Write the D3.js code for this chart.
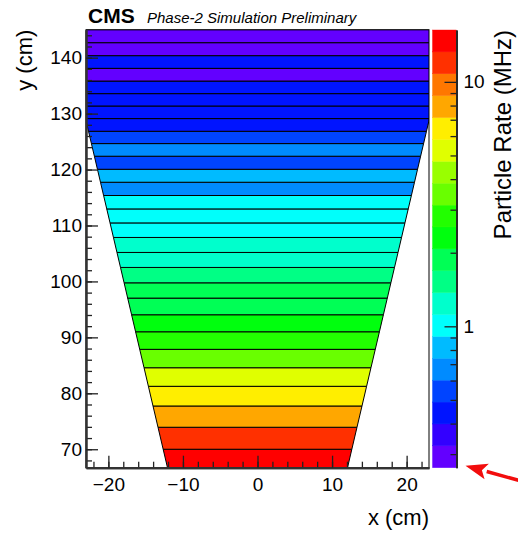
<!DOCTYPE html>
<html>
<head>
<meta charset="utf-8">
<script src="https://cdn.jsdelivr.net/npm/d3@7"></script>
<style>
  body { margin: 0; background: #fff; }
  svg { display: block; font-family: "Liberation Sans", Arial, sans-serif; }
</style>
</head>
<body>
<svg width="518" height="533"></svg>
<script>
// strip boundaries in y (cm), bottom to top
const stripEdges = [66.7, 70.0, 73.93, 77.73, 81.25, 84.57, 87.86, 91.0, 94.04, 97.02,
    99.75, 102.5, 105.18, 107.86, 110.46, 112.96, 115.36, 117.73, 120.05, 122.38,
    124.64, 126.84, 129.11, 131.36, 133.57, 135.82, 138.09, 140.36, 142.68, 145];

// particle rate of each strip (MHz), bottom to top
const stripRates = [14.7, 12.0, 7.9, 6.4, 5.2, 3.5, 2.8, 2.3, 1.87, 1.85,
    1.52, 1.24, 1.22, 1.01, 1.0, 0.98, 0.67, 0.82, 0.54, 0.66,
    0.55, 0.44, 0.44, 0.43, 0.44, 0.29, 0.43, 0.29, 0.28];

// chamber outline: y (cm) and half width (cm) at those y
const chamberY = [66.7, 145];
const chamberHalfWidth = [12.07, 25.86];

const xTicks = [-20, -10, 0, 10, 20];
const yTicks = [70, 80, 90, 100, 110, 120, 130, 140];
const zTicks = [1, 10];
const zMinorTicks = [0.3, 0.4, 0.5, 0.6, 0.7, 0.8, 0.9, 2, 3, 4, 5, 6, 7, 8, 9];
const zRange = [0.264, 16.3];

// ROOT "pretty" palette, 20 contours
const palette = ['#6300ff', '#3300ff', '#0014ff', '#0044ff', '#008bff', '#00bbff',
    '#00fffb', '#00ffcc', '#00ff85', '#00ff55', '#00ff0e', '#22ff00', '#69ff00',
    '#99ff00', '#e0ff00', '#ffee00', '#ffa700', '#ff7700', '#ff3000', '#ff0000'];

const svg = d3.select('svg');

const plot = { left: 86, right: 429, top: 29.7, bottom: 467.7 };
const bar = { left: 432.5, right: 456.5 };

const x = d3.scaleLinear().domain([-23, 23]).range([plot.left, plot.right]);
const y = d3.scaleLinear().domain([66.7, 145]).range([plot.bottom, plot.top]);
const halfWidth = d3.scaleLinear().domain(chamberY).range(chamberHalfWidth);
const z = d3.scaleLog().domain(zRange).range([plot.bottom, 30]);
const colour = d3.scaleQuantize()
    .domain(zRange.map(Math.log10))
    .range(palette);

svg.append('clipPath').attr('id', 'frame')
  .append('rect')
    .attr('x', plot.left).attr('y', plot.top)
    .attr('width', plot.right - plot.left)
    .attr('height', plot.bottom - plot.top);

const strips = stripRates.map((rate, i) => ({ y0: stripEdges[i], y1: stripEdges[i + 1], rate }));

svg.append('g').attr('clip-path', 'url(#frame)')
  .selectAll('polygon').data(strips)
  .enter().append('polygon')
    .attr('points', d => [
        [-halfWidth(d.y0), d.y0], [halfWidth(d.y0), d.y0],
        [halfWidth(d.y1), d.y1], [-halfWidth(d.y1), d.y1]
      ].map(p => [x(p[0]), y(p[1])].join(',')).join(' '))
    .attr('fill', d => colour(Math.log10(d.rate)))
    .attr('stroke', '#000')
    .attr('stroke-width', 1);

// frame
svg.append('rect')
    .attr('x', plot.left).attr('y', plot.top)
    .attr('width', plot.right - plot.left)
    .attr('height', plot.bottom - plot.top)
    .attr('fill', 'none').attr('stroke', '#000').attr('stroke-width', 1);

const styleAxis = g => {
  g.attr('font-family', null).attr('font-size', 19);
  g.select('.domain').attr('stroke', '#333').attr('stroke-width', 2);
  g.selectAll('.tick line').attr('stroke', '#222').attr('stroke-width', 1.3);
  g.selectAll('.tick text').attr('fill', '#000');
};

// x axis
svg.append('g')
    .attr('transform', `translate(0,${plot.bottom})`)
    .call(d3.axisBottom(x).tickValues(d3.range(-22, 23, 2)).tickFormat('').tickSize(-6).tickSizeOuter(0))
    .call(styleAxis);
svg.append('g')
    .attr('transform', `translate(0,${plot.bottom})`)
    .call(d3.axisBottom(x).tickValues(xTicks).tickSize(-12).tickSizeOuter(0).tickPadding(10))
    .call(styleAxis);

// y axis
svg.append('g')
    .attr('transform', `translate(${plot.left},0)`)
    .call(d3.axisLeft(y).tickValues(d3.range(68, 145, 2)).tickFormat('').tickSize(-6).tickSizeOuter(0))
    .call(styleAxis);
svg.append('g')
    .attr('transform', `translate(${plot.left},0)`)
    .call(d3.axisLeft(y).tickValues(yTicks).tickSize(-12).tickSizeOuter(0).tickPadding(4))
    .call(styleAxis);

// colour bar
const levels = [colour.domain()[0], ...colour.thresholds(), colour.domain()[1]];
svg.append('g')
  .selectAll('rect').data(palette)
  .enter().append('rect')
    .attr('x', bar.left)
    .attr('width', bar.right - bar.left)
    .attr('y', (d, i) => z(Math.pow(10, levels[i + 1])))
    .attr('height', (d, i) => z(Math.pow(10, levels[i])) - z(Math.pow(10, levels[i + 1])))
    .attr('fill', d => d)
    .attr('stroke', d => d)
    .attr('stroke-width', 0.4);

svg.append('g')
    .attr('transform', `translate(${bar.right},0)`)
    .call(d3.axisRight(z).tickValues(zMinorTicks).tickFormat('').tickSize(-6).tickSizeOuter(0))
    .call(styleAxis);
svg.append('g')
    .attr('transform', `translate(${bar.right},0)`)
    .call(d3.axisRight(z).tickValues(zTicks).tickFormat(d3.format('d')).tickSize(-12).tickSizeOuter(0).tickPadding(7))
    .call(styleAxis)
    .call(g => g.select('.domain').attr('stroke', '#222').attr('stroke-width', 1.2));

// titles
svg.append('text')
    .attr('x', plot.right).attr('y', 525)
    .attr('text-anchor', 'end')
    .attr('font-size', 22)
    .text('x (cm)');

svg.append('text')
    .attr('transform', `translate(32,${plot.top}) rotate(-90)`)
    .attr('text-anchor', 'end')
    .attr('font-size', 22)
    .text('y (cm)');

svg.append('text')
    .attr('transform', `translate(511,30) rotate(-90)`)
    .attr('text-anchor', 'end')
    .attr('font-size', 24)
    .text('Particle Rate (MHz)');

svg.append('text')
    .attr('x', 88).attr('y', 23)
    .attr('font-size', 21)
    .attr('font-weight', 'bold')
    .text('CMS');

svg.append('text')
    .attr('x', 147).attr('y', 23)
    .attr('font-size', 15)
    .attr('font-style', 'italic')
    .text('Phase-2 Simulation Preliminary');

// red arrow pointing at the bottom of the colour scale
const tip = [bar.right + 9, z(zRange[0]) - 2];
const tail = [520, tip[1] + 15];
const ang = Math.atan2(tail[1] - tip[1], tail[0] - tip[0]);
const headLen = 22, headHalf = 8;
const base = [tip[0] + headLen * Math.cos(ang), tip[1] + headLen * Math.sin(ang)];
const perp = [-Math.sin(ang), Math.cos(ang)];

svg.append('line')
    .attr('x1', base[0]).attr('y1', base[1])
    .attr('x2', tail[0]).attr('y2', tail[1])
    .attr('stroke', '#f20d0d').attr('stroke-width', 3.5);

svg.append('polygon')
    .attr('points', [
        tip,
        [base[0] + headHalf * perp[0], base[1] + headHalf * perp[1]],
        [base[0] - 5 * Math.cos(ang), base[1] - 5 * Math.sin(ang)],
        [base[0] - headHalf * perp[0], base[1] - headHalf * perp[1]]
      ].map(p => p.join(',')).join(' '))
    .attr('fill', '#f20d0d');
</script>
</body>
</html>
